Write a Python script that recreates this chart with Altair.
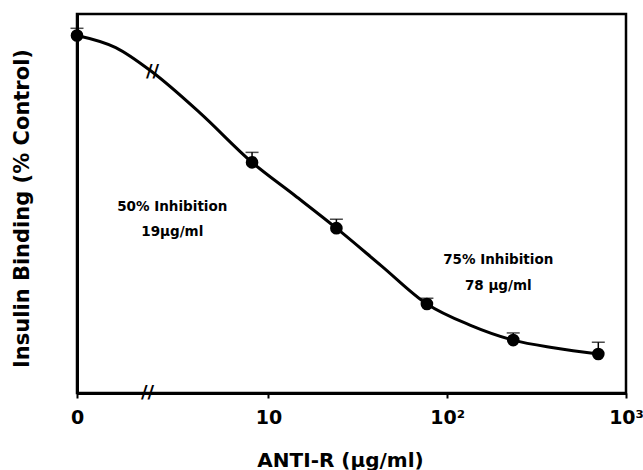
import altair as alt
import pandas as pd

# ---- measured points (dose in ug/ml, binding in % of control) ----
dose = [0, 8.1, 24, 77, 234, 700]
binding = [100, 64.5, 46.1, 24.9, 14.8, 10.9]
err_upper = [2.0, 2.8, 2.5, 1.6, 2.0, 3.3]

# ---- fitted curve ----
curve_dose = [0, 1.40, 2.25, 4.17, 8.1, 14.0, 24, 43, 77, 134, 234, 401, 700]
curve_binding = [100, 96.6, 89.7, 78.2, 64.5, 55.3, 46.1, 35.5, 24.9, 19.0,
                 14.8, 12.6, 10.9]

# ---- axis ticks ----
tick_values = [0, 10, 100, 1000]
tick_labels = ["0", "10", "10²", "10³"]

# ---- annotations ----
ann_text = ["50% Inhibition", "19μg/ml", "75% Inhibition", "78 μg/ml"]
ann_dose = [2.9, 2.9, 193, 193]
ann_binding = [52.0, 45.0, 37.2, 29.9]

# ---- axis-break marks ----
break_dose = [2.11, 2.25]
break_binding = [0, 89.7]

ZERO_AT = 0.85  # where dose 0 sits on the broken log axis


def pos(d):
    return d if d > 0 else ZERO_AT


pts = pd.DataFrame({
    "x": [pos(d) for d in dose],
    "y": binding,
    "top": [b + e for b, e in zip(binding, err_upper)],
})
curve = pd.DataFrame({"x": [pos(d) for d in curve_dose], "y": curve_binding})
ann = pd.DataFrame({"x": ann_dose, "y": ann_binding, "t": ann_text})
brk = pd.DataFrame({"x": break_dose, "y": break_binding, "t": ["//", "//"]})

tick_pos = [pos(v) for v in tick_values]
label_expr = ""
for v, lab in zip(tick_pos[:-1], tick_labels[:-1]):
    label_expr += f"datum.value <= {v * 1.001} ? '{lab}' : "
label_expr += f"'{tick_labels[-1]}'"

FONT = "DejaVu Sans"

X = alt.X(
    "x:Q",
    scale=alt.Scale(type="log", domain=[ZERO_AT, 1000], nice=False),
    axis=alt.Axis(
        values=tick_pos, labelExpr=label_expr, title="ANTI-R (μg/ml)",
        grid=False, tickSize=5, tickWidth=2, labelPadding=25,
        labelBaseline="alphabetic", labelFontSize=19, labelFontWeight="bold",
        labelFont=FONT, labelColor="black", labelFlush=False,
        titleFont=FONT, titleFontSize=20, titleFontWeight="bold",
        titleColor="black", titleX=263, titleY=73, titleAlign="center",
        titleBaseline="alphabetic",
    ),
)
Y = alt.Y(
    "y:Q",
    scale=alt.Scale(domain=[0, 106], nice=False),
    axis=alt.Axis(
        title="Insulin Binding (% Control)", labels=False, ticks=False,
        grid=False, titleFont=FONT, titleFontSize=21, titleFontWeight="bold",
        titleColor="black", titleX=-49, titleY=194, titleAngle=270,
        titleAlign="center", titleBaseline="alphabetic",
    ),
)

line = alt.Chart(curve).mark_line(
    color="black", strokeWidth=3, interpolate="monotone"
).encode(x=X, y=Y)

bars = alt.Chart(pts).mark_rule(color="black", strokeWidth=1.5).encode(
    x=X, y=Y, y2=alt.Y2("top")
)
caps = alt.Chart(pts).mark_tick(
    color="black", orient="horizontal", size=13, thickness=1.5
).encode(x=X, y=alt.Y("top:Q"))

dots = alt.Chart(pts).mark_circle(color="black", size=160, opacity=1).encode(
    x=X, y=Y
)

labels = alt.Chart(ann).mark_text(
    font=FONT, fontSize=13.5, fontWeight="bold", color="black",
    align="center", baseline="middle",
).encode(x=X, y=Y, text="t:N")

breaks = alt.Chart(brk).mark_text(
    font=FONT, fontSize=18, fontWeight="bold", color="black",
    align="center", baseline="middle",
).encode(x=X, y=Y, text="t:N")

chart = alt.layer(line, bars, caps, dots, labels, breaks).properties(
    width=549,
    height=379,
    autosize=alt.AutoSizeParams(type="none"),
    padding={"left": 77, "top": 14, "right": 17, "bottom": 77},
).configure_view(
    stroke="black", strokeWidth=2.5
).configure_axis(
    domainColor="black", domainWidth=3, tickColor="black"
)

chart.save("out.html", embed_options={"renderer": "svg", "actions": False})
